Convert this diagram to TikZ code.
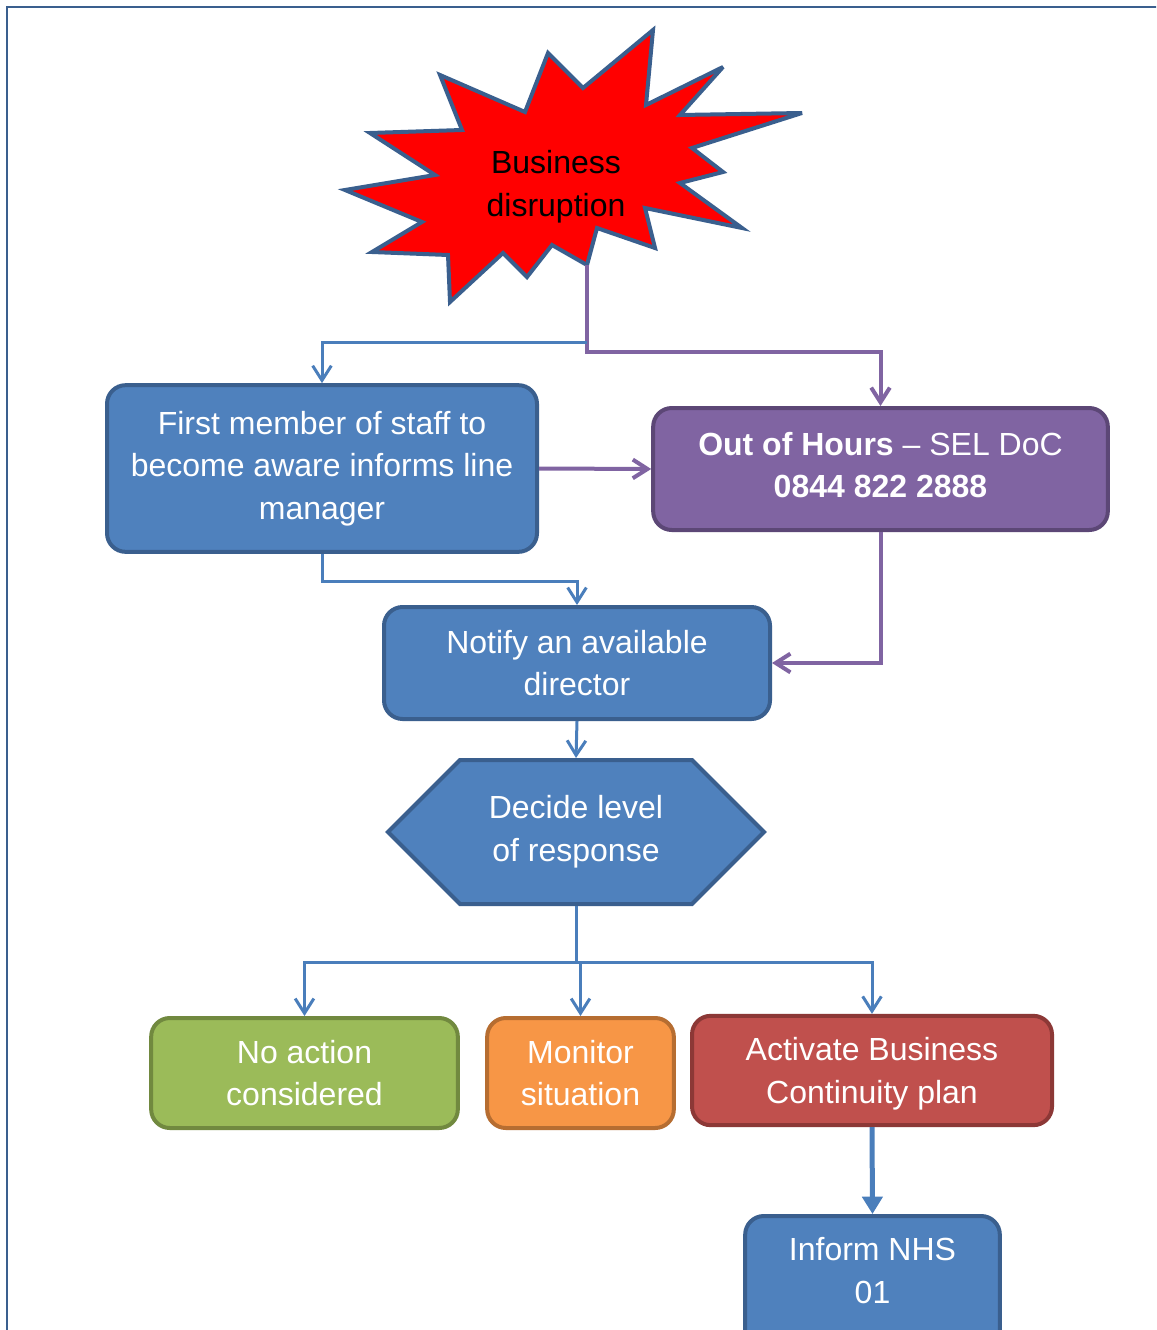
\documentclass[tikz,border=0pt]{standalone}
\usepackage{fontspec}
\setmainfont{Liberation Sans}
\usetikzlibrary{arrows.meta,shapes.symbols}

\definecolor{boxblue}{HTML}{4F81BD}
\definecolor{boxblueline}{HTML}{3A5F8E}
\definecolor{boxpurple}{HTML}{8064A2}
\definecolor{boxpurpleline}{HTML}{5C4776}
\definecolor{boxgreen}{HTML}{9BBB59}
\definecolor{boxgreenline}{HTML}{71893F}
\definecolor{boxorange}{HTML}{F79646}
\definecolor{boxorangeline}{HTML}{B66D31}
\definecolor{boxred}{HTML}{C0504D}
\definecolor{boxredline}{HTML}{8C3836}
\definecolor{linkblue}{HTML}{4A7EBB}
\definecolor{linkpurple}{HTML}{8064A2}

\tikzset{
  flowbox/.style={rectangle,rounded corners=14pt,line width=3pt,align=center,
    text=white,font=\fontsize{24}{32}\selectfont,inner sep=4pt},
  bluebox/.style={flowbox,fill=boxblue,draw=boxblueline},
  purplebox/.style={flowbox,fill=boxpurple,draw=boxpurpleline},
  greenbox/.style={flowbox,fill=boxgreen,draw=boxgreenline},
  orangebox/.style={flowbox,fill=boxorange,draw=boxorangeline},
  redbox/.style={flowbox,fill=boxred,draw=boxredline},
  bluelink/.style={draw=linkblue,line width=2.25pt,
    -{Straight Barb[length=11pt,width=14pt]}},
  purplelink/.style={draw=linkpurple,line width=3pt,
    -{Straight Barb[length=11pt,width=14pt]}}
}

\begin{document}
\begin{tikzpicture}[x=0.75pt,y=-0.75pt]
   \clip (0,0) rectangle (1156,1330);
   \fill[white] (0,0) rectangle (1156,1330);
   \draw[boxblueline,line width=1.5pt] (7,1335) -- (7,7) -- (1160,7);

   \draw[fill=red,draw=boxblueline,line width=3pt,miter limit=5]
     (653,30) -- (646,105) -- (723,67) -- (680,115) -- (802,113) -- (692,148)
     -- (723,172) -- (680,183) -- (742,228) -- (645,208) -- (655,248)
     -- (597,228) -- (587,265) -- (552,245) -- (527,277) -- (503,253)
     -- (450,302) -- (448,255) -- (372,252) -- (422,222) -- (345,190)
     -- (435,175) -- (370,133) -- (462,130) -- (440,75) -- (525,112)
     -- (548,53) -- (583,88) -- cycle;
   \node[align=center,font=\fontsize{24}{32}\selectfont] (disrupt) at (556,187) {Business\\disruption};
   \coordinate (startip) at (587,265);
   \coordinate (split) at (587,342);

   \node[bluebox,minimum width=322.5pt,minimum height=125pt] (staff) at (322,468.5)
     {First member of staff to\\become aware informs line\\manager};
   \node[purplebox,minimum width=341pt,minimum height=91.5pt,text depth=6pt] (hours) at (880.5,469)
     {\textbf{Out of Hours} – SEL DoC\\\textbf{0844 822 2888}};
   \node[bluebox,minimum width=289.5pt,minimum height=84pt] (notify) at (577,663)
     {Notify an available\\director};
   \node[signal,signal to=east and west,signal pointer angle=90,fill=boxblue,
     draw=boxblueline,line width=3pt,align=center,text=white,
     font=\fontsize{24}{32}\selectfont,minimum width=282pt,minimum height=108pt] (decide) at (576,832)
     {Decide level\\of response};
   \node[greenbox,minimum width=230pt,minimum height=82.5pt] (noaction) at (304.5,1073)
     {No action\\considered};
   \node[orangebox,minimum width=140pt,minimum height=82.5pt] (monitor) at (580.5,1073)
     {Monitor\\situation};
   \node[redbox,minimum width=270pt,minimum height=82pt,text depth=0pt] (activate) at (872,1070.5)
     {Activate Business\\Continuity plan};
   \node[bluebox,minimum width=191pt,anchor=north,inner ysep=16pt,text depth=50pt] (inform) at (872.5,1214)
     {Inform NHS\\01};

   \draw[purplelink] (startip) -- ++(0,87) -| (hours.north);
   \draw[bluelink] (split) -| (staff.north);
   \draw[purplelink] (staff.east) -- (hours.west);
   \draw[bluelink] (staff.south) -- ++(0,28) -| (notify.north);
   \draw[purplelink] (hours.south) |- (notify.east);
   \draw[bluelink] (notify.south) -- (decide.north);
   \draw[bluelink] (decide.south) -- ++(0,56) coordinate (fork) -| (noaction.north);
   \draw[bluelink] (fork) -| (monitor.north);
   \draw[bluelink] (fork) -| (activate.north);
   \draw[draw=linkblue,line width=3.75pt,-{Triangle[length=13pt,width=15pt]}]
     (activate.south) -- (inform.north);
\end{tikzpicture}
\end{document}
